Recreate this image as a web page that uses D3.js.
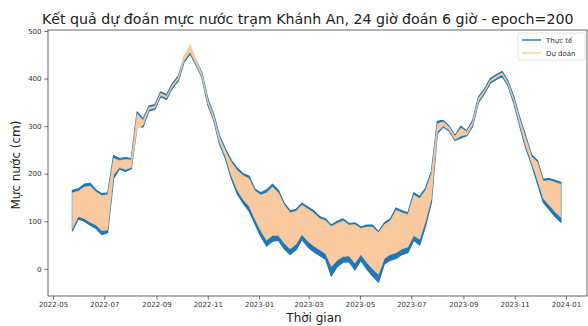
<!DOCTYPE html>
<html><head><meta charset="utf-8">
<script src="https://cdn.jsdelivr.net/npm/d3@7"></script>
<style>body{margin:0;background:#fff}svg{display:block}text{font-family:"DejaVu Sans",sans-serif}</style>
</head><body><svg id="c" width="588" height="326"></svg>
<script>
const dates = ["2022-05-24","2022-05-31","2022-06-07","2022-06-14","2022-06-21","2022-06-28","2022-07-05","2022-07-12","2022-07-19","2022-07-26",
"2022-08-02","2022-08-09","2022-08-16","2022-08-23","2022-08-30","2022-09-06","2022-09-13","2022-09-20","2022-09-27","2022-10-04",
"2022-10-11","2022-10-18","2022-10-25","2022-11-01","2022-11-08","2022-11-15","2022-11-22","2022-11-29","2022-12-06","2022-12-13",
"2022-12-20","2022-12-27","2023-01-03","2023-01-10","2023-01-17","2023-01-24","2023-01-31","2023-02-07","2023-02-14","2023-02-21",
"2023-02-28","2023-03-07","2023-03-14","2023-03-21","2023-03-28","2023-04-04","2023-04-11","2023-04-18","2023-04-25","2023-05-02",
"2023-05-09","2023-05-16","2023-05-23","2023-05-30","2023-06-06","2023-06-13","2023-06-20","2023-06-27","2023-07-04","2023-07-11",
"2023-07-18","2023-07-25","2023-08-01","2023-08-08","2023-08-15","2023-08-22","2023-08-29","2023-09-05","2023-09-12","2023-09-19",
"2023-09-26","2023-10-03","2023-10-10","2023-10-17","2023-10-24","2023-10-31","2023-11-07","2023-11-14","2023-11-21","2023-11-28",
"2023-12-05","2023-12-12","2023-12-19","2023-12-26"];
const actualHigh = [165,168,178,180,166,158,160,238,232,234, 232,330,315,342,345,372,366,390,405,445,
460,438,412,358,325,280,252,228,212,200, 195,168,160,166,178,165,138,122,125,138,
130,122,110,105,92,100,105,95,97,88, 92,92,78,97,105,128,122,118,160,152,
170,205,310,312,300,280,300,290,312,362, 378,400,408,415,395,362,318,280,240,228,
188,190,186,182];
const actualLow = [80,105,100,92,85,72,76,190,210,205, 210,300,298,332,335,362,356,380,395,435,
452,428,402,345,312,262,232,190,158,138, 122,95,68,48,58,60,42,30,40,62,
46,36,28,20,-15,5,14,15,-2,18, 0,-15,-28,10,18,22,30,34,60,50,
90,140,285,298,290,270,275,280,300,350, 368,390,398,405,385,348,300,255,220,180,
140,125,110,98];
const predHigh = [160,163,172,174,162,154,156,232,228,230, 229,326,312,339,342,369,363,387,402,448,
472,440,410,355,322,276,248,224,207,196, 190,164,155,160,172,160,134,118,121,134,
126,118,106,101,89,96,101,92,93,85, 88,88,76,93,101,123,118,114,155,148,
165,200,305,309,298,278,296,288,309,359, 375,397,405,412,392,358,314,276,236,224,
184,186,182,178];
const predLow = [85,110,106,98,92,80,82,198,213,209, 213,295,302,335,338,365,359,383,398,438,
456,430,404,348,315,266,236,196,166,146, 132,105,80,60,70,70,54,42,52,72,
58,48,40,32,5,18,26,27,12,30, 14,0,-12,22,30,34,42,46,70,62,
100,148,288,300,292,272,279,282,303,353, 371,393,401,408,388,352,304,260,224,188,
148,134,120,108];
const yTicks = [0,100,200,300,400,500];
const xTickLabels = ["2022-05","2022-07","2022-09","2022-11","2023-01","2023-03","2023-05","2023-07","2023-09","2023-11","2024-01"];
const seriesNames = ["Thực tế","Dự đoán"];

const parse = d3.timeParse("%Y-%m-%d");
const pm = d3.timeParse("%Y-%m");
const X = dates.map(parse);
const svg = d3.select("#c");
const L=48, R=587, T=30, B=296;
const x = d3.scaleTime().domain([parse("2022-04-25"), parse("2024-01-26")]).range([L,R]);
const y = d3.scaleLinear().domain([-57,502]).range([B,T]);
const blue="#1f77b4", peach="#f9c9a0";

const g = svg.append("g");
const idx = d3.range(X.length);
const aArea = d3.area().x(i=>x(X[i])).y0(i=>y(actualLow[i])).y1(i=>y(actualHigh[i]));
const pArea = d3.area().x(i=>x(X[i])).y0(i=>y(predLow[i])).y1(i=>y(predHigh[i]));
g.append("path").attr("d",aArea(idx)).attr("fill",blue).attr("stroke",blue).attr("stroke-width",1.2).attr("stroke-linejoin","round");
g.append("path").attr("d",pArea(idx)).attr("fill",peach).attr("stroke",peach).attr("stroke-width",0.6);

const xa = svg.append("g").attr("transform",`translate(0,${B})`)
  .call(d3.axisBottom(x).tickValues(xTickLabels.map(pm)).tickFormat(d3.timeFormat("%Y-%m")).tickSize(3.5).tickPadding(3));
const ya = svg.append("g").attr("transform",`translate(${L},0)`)
  .call(d3.axisLeft(y).tickValues(yTicks).tickSize(3.5).tickPadding(3));
[xa,ya].forEach(a=>{a.select(".domain").remove();a.selectAll("text").attr("font-size",7).attr("fill","#333").attr("font-family","DejaVu Sans");a.selectAll("line").attr("stroke","#444").attr("stroke-width",0.8);});
svg.append("rect").attr("x",L).attr("y",T).attr("width",R-L).attr("height",B-T).attr("fill","none").attr("stroke","#555").attr("stroke-width",0.9);

svg.append("text").attr("x",42).attr("y",24).attr("font-size",14.2).attr("fill","#222")
  .text("Kết quả dự đoán mực nước trạm Khánh An, 24 giờ đoán 6 giờ - epoch=200");
svg.append("text").attr("transform","translate(20,165) rotate(-90)").attr("text-anchor","middle").attr("font-size",12).attr("fill","#222").text("Mực nước (cm)");
svg.append("text").attr("x",314).attr("y",322).attr("text-anchor","middle").attr("font-size",12).attr("fill","#222").text("Thời gian");

const lg = svg.append("g");
lg.append("rect").attr("x",518).attr("y",33).attr("width",67).attr("height",27).attr("rx",2).attr("fill","#fff").attr("stroke","#ddd").attr("stroke-width",0.8);
const cols=[blue,peach];
seriesNames.forEach((n,i)=>{
  const yy=40+i*13;
  lg.append("line").attr("x1",522).attr("x2",541).attr("y1",yy).attr("y2",yy).attr("stroke",cols[i]).attr("stroke-width",1.4);
  lg.append("text").attr("x",546).attr("y",yy+2.5).attr("font-size",7).attr("fill","#333").text(n);
});
</script></body></html>
